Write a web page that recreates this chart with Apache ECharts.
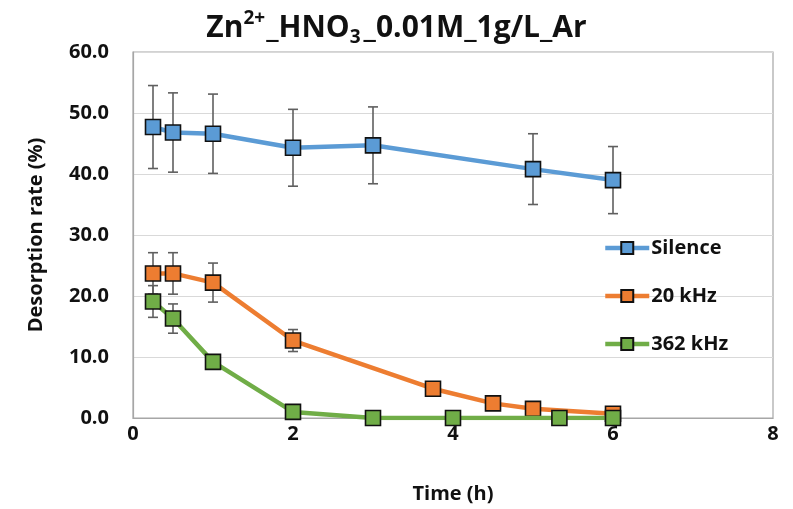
<!DOCTYPE html>
<html>
<head>
<meta charset="utf-8">
<script src="https://cdn.jsdelivr.net/npm/echarts@6/dist/echarts.min.js"></script>
<style>html,body{margin:0;padding:0;background:#fff}#c{width:793px;height:509px}</style>
</head>
<body>
<div id="c"></div>
<script>
// ---- data ----
const seriesNames = ['Silence', '20 kHz', '362 kHz'];
const silenceTime = [0.25, 0.5, 1, 2, 3, 5, 6];
const silenceValue = [47.7, 46.8, 46.6, 44.3, 44.7, 40.8, 39.0];
const silenceErr = [6.8, 6.5, 6.5, 6.3, 6.3, 5.8, 5.5];
const khz20Time = [0.25, 0.5, 1, 2, 3.75, 4.5, 5, 6];
const khz20Value = [23.7, 23.7, 22.2, 12.7, 4.8, 2.4, 1.5, 0.7];
const khz20Err = [3.4, 3.4, 3.2, 1.8, 0, 0, 0, 0];
const khz362Time = [0.25, 0.5, 1, 2, 3, 4, 5.33, 6];
const khz362Value = [19.1, 16.3, 9.2, 1.0, 0, 0, 0, 0];
const khz362Err = [2.6, 2.4, 0, 0, 0, 0, 0, 0];
const xTicks = [0, 2, 4, 6, 8];
const yTicks = [0, 10, 20, 30, 40, 50, 60];

const colors = ['#5B9BD5', '#ED7D31', '#70AD47'];
const FONT = 'Open Sans';
const txt = '#111';

function pts(t, v) { return t.map((x, i) => [x, v[i]]); }
function errPts(t, v, e) { return t.map((x, i) => [x, v[i], e[i]]).filter(d => d[2] > 0); }

function errRender(params, api) {
  const x = api.value(0), y = api.value(1), e = api.value(2);
  const top = api.coord([x, y + e]);
  const bot = api.coord([x, y - e]);
  const cw = 5;
  const style = { stroke: '#5f5f5f', lineWidth: 1.6 };
  return {
    type: 'group',
    children: [
      { type: 'line', shape: { x1: top[0], y1: top[1], x2: bot[0], y2: bot[1] }, style },
      { type: 'line', shape: { x1: top[0] - cw, y1: top[1], x2: top[0] + cw, y2: top[1] }, style },
      { type: 'line', shape: { x1: bot[0] - cw, y1: bot[1], x2: bot[0] + cw, y2: bot[1] }, style }
    ]
  };
}

const lineData = [pts(silenceTime, silenceValue), pts(khz20Time, khz20Value), pts(khz362Time, khz362Value)];
const errData = [errPts(silenceTime, silenceValue, silenceErr), errPts(khz20Time, khz20Value, khz20Err), errPts(khz362Time, khz362Value, khz362Err)];

const series = [];
seriesNames.forEach((n, i) => {
  series.push({
    type: 'custom', name: n + '_err', renderItem: errRender, data: errData[i],
    encode: { x: 0, y: 1 }, z: 1, silent: true
  });
});
seriesNames.forEach((n, i) => {
  series.push({
    type: 'line', name: n, data: lineData[i], z: 3 + i,
    lineStyle: { color: colors[i], width: 4.5 },
    itemStyle: { color: colors[i], borderColor: '#111', borderWidth: 1.6 },
    symbol: 'rect', symbolSize: 15, showSymbol: true
  });
});

const chart = echarts.init(document.getElementById('c'), null, { renderer: 'canvas' });
chart.setOption({
  animation: false,
  backgroundColor: '#fff',
  title: {
    text: '{a|Zn}{sup|2+}{a|_HNO}{sub|3}{a|_0.01M_1g/L_Ar}',
    left: 'center', top: 4,
    textStyle: {
      rich: {
        a: { fontFamily: FONT, fontWeight: 'bold', fontSize: 30, color: txt, verticalAlign: 'middle', height: 38 },
        sup: { fontFamily: FONT, fontWeight: 'bold', fontSize: 19, color: txt, verticalAlign: 'top', padding: [0, 1, 13, 0] },
        sub: { fontFamily: FONT, fontWeight: 'bold', fontSize: 19, color: txt, verticalAlign: 'bottom', padding: [15, 3, 0, 0] }
      }
    }
  },
  legend: {
    data: seriesNames,
    orient: 'vertical', left: 598, top: 233, itemGap: 28,
    itemWidth: 44, itemHeight: 15,
    lineStyle: { width: 4.5 },
    textStyle: { fontFamily: FONT, fontWeight: 'bold', fontSize: 20, color: txt, padding: [0, 0, 0, -3] }
  },
  grid: { left: 133, right: 20, top: 52, bottom: 91, show: true, borderColor: '#a6a6a6', borderWidth: 1.2, containLabel: false },
  xAxis: {
    type: 'value', min: xTicks[0], max: xTicks[xTicks.length - 1], interval: 2,
    name: 'Time (h)', nameLocation: 'middle', nameGap: 66,
    nameTextStyle: { fontFamily: FONT, fontWeight: 'bold', fontSize: 20, color: txt },
    axisLine: { show: true, lineStyle: { color: '#a6a6a6', width: 1.2 } },
    axisTick: { show: false },
    splitLine: { show: false },
    axisLabel: { fontFamily: FONT, fontWeight: 'bold', fontSize: 20, color: txt, margin: 6 }
  },
  yAxis: {
    type: 'value', min: yTicks[0], max: yTicks[yTicks.length - 1], interval: 10,
    name: 'Desorption rate (%)', nameLocation: 'middle', nameGap: 87,
    nameTextStyle: { fontFamily: FONT, fontWeight: 'bold', fontSize: 20, color: txt },
    axisLine: { show: true, lineStyle: { color: '#a6a6a6', width: 1.2 } },
    axisTick: { show: false },
    splitLine: { show: true, lineStyle: { color: '#d9d9d9', width: 1.2 } },
    axisLabel: { fontFamily: FONT, fontWeight: 'bold', fontSize: 20, color: txt, margin: 24, formatter: v => v.toFixed(1) }
  },
  series
});
</script>
</body>
</html>
